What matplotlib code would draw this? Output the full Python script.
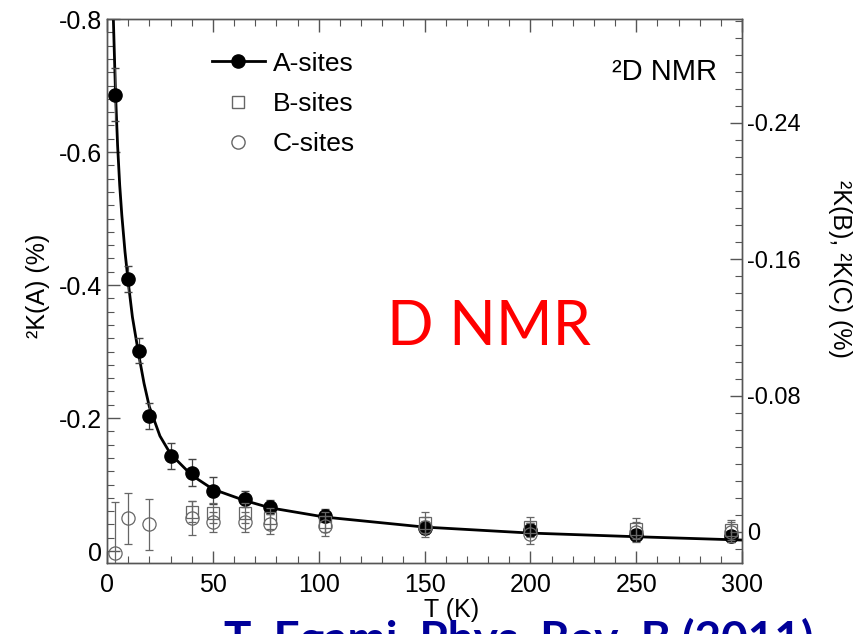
import matplotlib
matplotlib.use("Agg")
import matplotlib.pyplot as plt
from matplotlib.ticker import MultipleLocator
from matplotlib.lines import Line2D

plt.rcParams['font.family'] = ['Liberation Sans', 'DejaVu Sans']

# A-sites (left axis), K in %
t_a = [4, 10, 15, 20, 30, 40, 50, 65, 77, 103, 150, 200, 250, 295]
k_a = [-0.686, -0.409, -0.301, -0.203, -0.143, -0.118, -0.091, -0.078,
       -0.066, -0.053, -0.035, -0.032, -0.024, -0.022]
err_a = [0.04, 0.02, 0.019, 0.02, 0.02, 0.02, 0.02, 0.012, 0.01, 0.01,
         0.01, 0.01, 0.008, 0.008]

# fit curve
t_fit = [3, 4, 5, 6, 7, 8.5, 10, 12, 15, 17.5, 20, 25, 30, 40, 50, 65, 77,
         103, 150, 200, 250, 300]
k_fit = [-0.80, -0.69, -0.61, -0.55, -0.505, -0.45, -0.405, -0.352, -0.295,
         -0.252, -0.217, -0.173, -0.146, -0.114, -0.093, -0.076, -0.065,
         -0.051, -0.036, -0.027, -0.0215, -0.0165]

# B-sites (right axis)
t_b = [40, 50, 65, 77, 103, 150, 200, 250, 295]
k_b = [-0.012, -0.011, -0.011, -0.008, -0.006, -0.0055, -0.003, -0.002, -0.001]
err_b = [0.006, 0.006, 0.006, 0.006, 0.006, 0.006, 0.006, 0.006, 0.006]

# C-sites (right axis)
t_c = [4, 10, 20, 40, 50, 65, 77, 103, 150, 200, 250, 295]
k_c = [0.0125, -0.008, -0.0045, -0.008, -0.006, -0.006, -0.0047, -0.0035,
       -0.003, 0.001, 0.0, 0.0]
err_c = [0.03, 0.015, 0.015, 0.01, 0.006, 0.006, 0.006, 0.006, 0.006,
         0.006, 0.006, 0.006]

left_ticks = [-0.8, -0.6, -0.4, -0.2, 0]
left_labels = ['-0.8', '-0.6', '-0.4', '-0.2', '0']
right_ticks = [-0.24, -0.16, -0.08, 0]
right_labels = ['-0.24', '-0.16', '-0.08', '0']
x_ticks = [0, 50, 100, 150, 200, 250, 300]

spine_c = '#555555'
gray = '#666666'

fig = plt.figure(figsize=(8.54, 6.34), dpi=100)
ax = fig.add_axes([0.1253, 0.112, 0.7436, 0.858])
ax2 = ax.twinx()

# A sites
ax.plot(t_fit, k_fit, color='black', lw=2.0, zorder=3)
ax.errorbar(t_a, k_a, yerr=err_a, fmt='o', color='black', ms=9.5,
            ecolor='#444444', elinewidth=0.9, capsize=3, zorder=4)

# B and C sites
ax2.errorbar(t_b, k_b, yerr=err_b, fmt='s', mfc='none', mec=gray, mew=0.9,
             ms=9, ecolor=gray, elinewidth=0.9, capsize=3)
ax2.errorbar(t_c, k_c, yerr=err_c, fmt='o', mfc='none', mec=gray, mew=0.9,
             ms=9.5, ecolor=gray, elinewidth=0.9, capsize=3)

ax.set_xlim(0, 300)
ax.set_ylim(0.018, -0.8)
ax2.set_ylim(0.0182, -0.301)

ax.set_xticks(x_ticks)
ax.set_xticklabels([str(v) for v in x_ticks])
ax.xaxis.set_minor_locator(MultipleLocator(10))
ax.set_yticks(left_ticks)
ax.set_yticklabels(left_labels)
ax.yaxis.set_minor_locator(MultipleLocator(0.02))
ax2.set_yticks(right_ticks)
ax2.set_yticklabels(right_labels)
ax2.yaxis.set_minor_locator(MultipleLocator(0.01))

ax.tick_params(which='both', direction='in', top=True, right=False,
               color=spine_c, labelsize=18)
ax.tick_params(which='major', length=9, width=1)
ax.tick_params(which='minor', length=5, width=0.8)
ax.tick_params(axis='x', pad=7)
ax2.tick_params(which='both', direction='in', color=spine_c, labelsize=17)
ax2.tick_params(which='major', length=9, width=1)
ax2.tick_params(which='minor', length=5, width=0.8)
for a in (ax, ax2):
    for s in a.spines.values():
        s.set_color(spine_c)
        s.set_linewidth(1)

ax.set_xlabel('T (K)', fontsize=18)
ax.xaxis.set_label_coords(0.543, -0.065)
ax.set_ylabel('²K(A) (%)', fontsize=18)
ax.yaxis.set_label_coords(-0.09, 0.51)
ax2.set_ylabel('²K(B), ²K(C) (%)', fontsize=18, rotation=-90, va='bottom')
ax2.yaxis.set_label_coords(1.135, 0.54)

handles = [
    Line2D([], [], color='black', lw=2, marker='o', ms=9.5),
    Line2D([], [], ls='none', marker='s', mfc='none', mec=gray, ms=9),
    Line2D([], [], ls='none', marker='o', mfc='none', mec=gray, ms=9.5),
]
ax2.legend(handles, ['A-sites', 'B-sites', 'C-sites'], loc='upper left',
           bbox_to_anchor=(0.165, 0.94), frameon=False, fontsize=19,
           handlelength=2.0, labelspacing=0.62, handletextpad=0.3,
           borderpad=0, borderaxespad=0)

ax2.text(0.961, 0.903, '²D NMR', transform=ax2.transAxes, ha='right',
         va='center', fontsize=21)

fig.text(0.572, 0.483, 'D NMR', color='#ff0000', fontsize=44,
         family='Lato', ha='center', va='center')
fig.text(0.262, 0.027, 'T. Egami, Phys. Rev. B (2011)', color='#000099',
         fontsize=33, family='Lato', fontweight='bold', ha='left', va='top')

fig.savefig('out.png', dpi=100)
